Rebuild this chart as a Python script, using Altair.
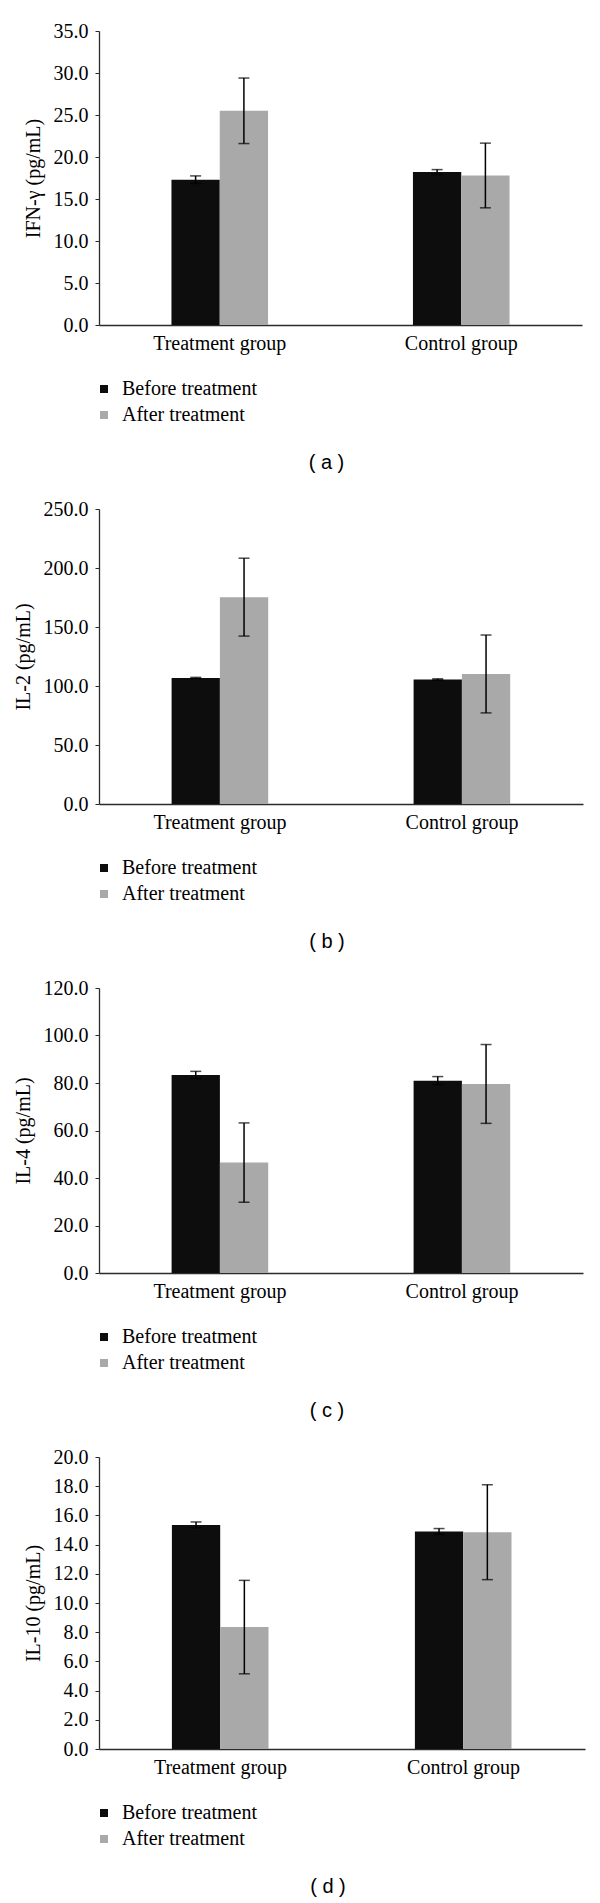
import altair as alt
import pandas as pd

groups = ["Treatment group", "Control group"]
phases = ["Before treatment", "After treatment"]

# order of values: Treatment/Before, Treatment/After, Control/Before, Control/After
row_groups = ["Treatment group", "Treatment group", "Control group", "Control group"]
row_phases = ["Before treatment", "After treatment", "Before treatment", "After treatment"]

ifn_mean = [17.3, 25.5, 18.2, 17.8]
ifn_sd = [0.45, 3.9, 0.3, 3.85]
il2_mean = [106.8, 175.3, 105.6, 110.2]
il2_sd = [0.5, 33.0, 0.5, 33.0]
il4_mean = [83.4, 46.5, 81.0, 79.6]
il4_sd = [1.5, 16.7, 1.7, 16.6]
il10_mean = [15.35, 8.35, 14.9, 14.85]
il10_sd = [0.2, 3.2, 0.2, 3.25]

ifn_ticks = [0, 5, 10, 15, 20, 25, 30, 35]
il2_ticks = [0, 50, 100, 150, 200, 250]
il4_ticks = [0, 20, 40, 60, 80, 100, 120]
il10_ticks = [0, 2, 4, 6, 8, 10, 12, 14, 16, 18, 20]

y_titles = ["IFN-γ (pg/mL)", "IL-2 (pg/mL)", "IL-4 (pg/mL)", "IL-10 (pg/mL)"]
captions = ["( a )", "( b )", "( c )", "( d )"]
means = [ifn_mean, il2_mean, il4_mean, il10_mean]
sds = [ifn_sd, il2_sd, il4_sd, il10_sd]
ticks = [ifn_ticks, il2_ticks, il4_ticks, il10_ticks]

widths = [483, 484, 484, 486]
heights = [294, 295, 285, 292]

SERIF = "Liberation Serif"
INK = "#2b2b2b"
FS = 20


def panel(i):
    df = pd.DataFrame({
        "group": row_groups,
        "phase": row_phases,
        "mean": means[i],
        "sd": sds[i],
    })
    df["lo"] = df["mean"] - df["sd"]
    df["hi"] = df["mean"] + df["sd"]
    h = heights[i]
    base = alt.Chart(df)

    x = alt.X("group:N", sort=groups,
              scale=alt.Scale(paddingInner=0.6, paddingOuter=0.3),
              axis=alt.Axis(title=None, labelAngle=0, ticks=False, domainColor=INK,
                            domainWidth=1.3, labelFont=SERIF, labelFontSize=FS,
                            labelColor="black", labelPadding=8))
    xo = alt.XOffset("phase:N", sort=phases,
                     scale=alt.Scale(paddingInner=0, paddingOuter=0))
    yscale = alt.Scale(domain=[0, ticks[i][-1]], nice=False)
    yaxis = alt.Axis(values=ticks[i], format=".1f", title=y_titles[i], grid=False,
                     labelFont=SERIF, labelFontSize=FS, labelColor="black",
                     labelPadding=7, tickSize=4, tickColor=INK, domainColor=INK,
                     domainWidth=1.3, titleFont=SERIF, titleFontSize=FS,
                     titleFontWeight="normal", titleColor="black", titlePadding=10)
    color = alt.Color("phase:N", sort=phases,
                      scale=alt.Scale(domain=phases, range=["#0d0d0d", "#a9a9a9"]),
                      legend=alt.Legend(orient="none", legendX=-5, legendY=h + 54,
                                        title=None, symbolType="square", symbolSize=64,
                                        symbolStrokeWidth=0, labelFont=SERIF,
                                        labelFontSize=FS, labelColor="black",
                                        labelOffset=8, rowPadding=6, padding=0))

    bars = base.mark_bar().encode(x=x, xOffset=xo,
                                  y=alt.Y("mean:Q", scale=yscale, axis=yaxis),
                                  color=color)
    rules = base.mark_rule(color="black", strokeWidth=1.5).encode(
        x=x, xOffset=xo, y=alt.Y("lo:Q", scale=yscale, axis=yaxis), y2="hi:Q")
    cap_hi = base.mark_tick(color="black", size=11, thickness=1.5,
                            orient="horizontal").encode(
        x=x, xOffset=xo, y=alt.Y("hi:Q", scale=yscale, axis=yaxis))
    cap_lo = base.mark_tick(color="black", size=11, thickness=1.5,
                            orient="horizontal").encode(
        x=x, xOffset=xo, y=alt.Y("lo:Q", scale=yscale, axis=yaxis))

    return alt.layer(bars, rules, cap_hi, cap_lo).properties(
        width=widths[i], height=h,
        title=alt.TitleParams(text=captions[i], orient="bottom", font="Liberation Sans",
                              fontSize=FS, fontWeight="normal", color="black",
                              anchor="middle", frame="group", dx=-14, offset=28),
    )


panels = [panel(i) for i in range(4)]

chart = alt.ConcatChart(concat=panels, columns=1, align="none", spacing=26).resolve_scale(
    color="independent", y="independent", x="independent"
).resolve_legend(color="independent").properties(
    padding={"left": 5, "top": 13, "right": 5, "bottom": 5},
    background="white",
).configure_view(stroke=None)

chart.save("out.html", embed_options={"renderer": "svg", "actions": False})
